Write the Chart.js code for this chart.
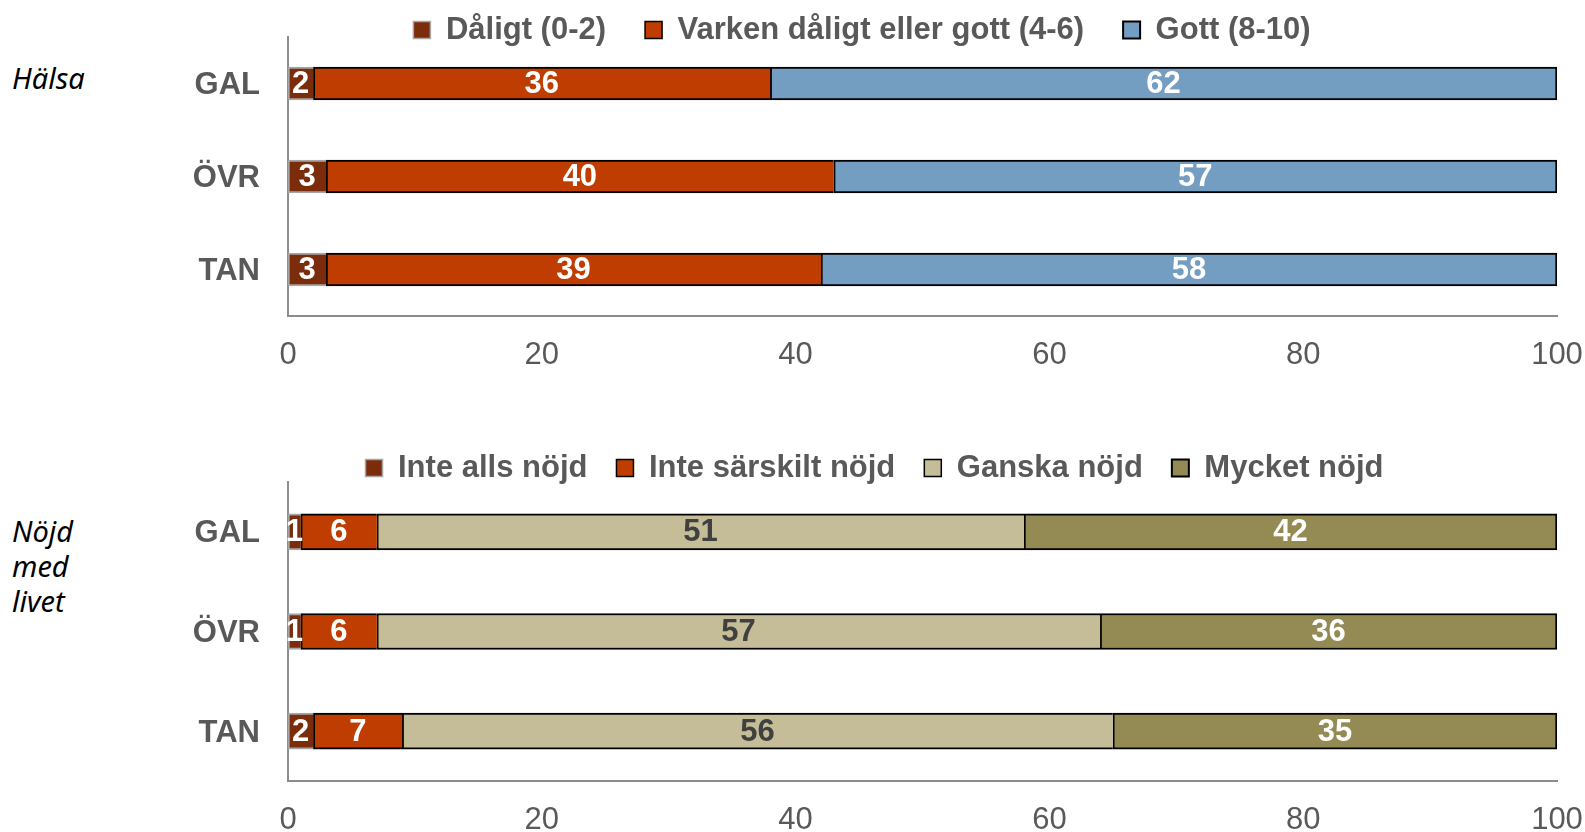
<!DOCTYPE html>
<html>
<head>
<meta charset="utf-8">
<script src="https://cdn.jsdelivr.net/npm/chart.js@4.4.1/dist/chart.umd.min.js"></script>
<style>
html, body { margin: 0; padding: 0; background: #fff; overflow: hidden; width: 1585px; height: 832px; }
canvas { position: absolute; left: 0; }
#halsa { top: 0; }
#nojd { top: 420px; }
.side { position: absolute; left: 12px; font-family: "Noto Sans", sans-serif; font-style: italic; font-size: 29px; line-height: 35px; color: #000; }
</style>
</head>
<body>
<div class="side" style="top:60px">Hälsa</div>
<div class="side" style="top:513px">Nöjd<br>med<br>livet</div>
<canvas id="halsa" width="1585" height="400"></canvas>
<canvas id="nojd" width="1585" height="420"></canvas>
<script>
const groups = ["GAL", "ÖVR", "TAN"];
const xTicks = [0, 20, 40, 60, 80, 100];

const halsaSeries = ["Dåligt (0-2)", "Varken dåligt eller gott (4-6)", "Gott (8-10)"];
const halsaDaligt = [2, 3, 3];
const halsaVarken = [36, 40, 39];
const halsaGott = [62, 57, 58];

const nojdSeries = ["Inte alls nöjd", "Inte särskilt nöjd", "Ganska nöjd", "Mycket nöjd"];
const nojdInteAlls = [1, 1, 2];
const nojdInteSarskilt = [6, 6, 7];
const nojdGanska = [51, 57, 56];
const nojdMycket = [42, 36, 35];

const FONT = "'Liberation Sans', Arial, sans-serif";
const GREY_TEXT = "#595959";
const AXIS = "#8c8c8c";

// bar label plugin, value centred in each segment
const barLabels = {
    id: "barLabels",
    afterDatasetsDraw(chart) {
        const ctx = chart.ctx;
        ctx.save();
        ctx.font = "bold 31px " + FONT;
        ctx.textAlign = "center";
        ctx.textBaseline = "middle";
        chart.data.datasets.forEach((ds, i) => {
            chart.getDatasetMeta(i).data.forEach((bar, j) => {
                ctx.fillStyle = ds.labelColor;
                ctx.fillText(ds.data[j], (bar.x + bar.base) / 2, bar.y + 1);
            });
        });
        ctx.restore();
    }
};

// legend keeps wide gaps between items but takes only a fixed height,
// and is drawn without clipping to that height
function legendHeight(h) {
    return {
        id: "legendHeight",
        beforeInit(chart) {
            if (!chart.legend) return;
            const fit = chart.legend.fit;
            chart.legend.fit = function () {
                fit.call(this);
                this.height = h;
            };
            chart.legend.draw = function () {
                if (this.options.display) this._draw();
            };
        }
    };
}

function segment(label, data, color, border, labelColor, last) {
    return {
        label: label,
        data: data,
        backgroundColor: color,
        borderColor: border,
        borderWidth: { top: 2, bottom: 2, left: 2, right: last ? 2 : 0 },
        borderSkipped: false,
        labelColor: labelColor
    };
}

function makeChart(id, datasets, opt) {
    return new Chart(document.getElementById(id), {
        type: "bar",
        data: { labels: groups, datasets: datasets },
        options: {
            indexAxis: "y",
            responsive: false,
            animation: false,
            barThickness: opt.bar,
            layout: { padding: opt.padding },
            plugins: {
                tooltip: { enabled: false },
                legend: {
                    position: "top",
                    labels: {
                        boxWidth: 17,
                        boxHeight: 17,
                        padding: opt.legendGap,
                        color: GREY_TEXT,
                        font: { family: FONT, size: 31, weight: "bold" }
                    }
                }
            },
            scales: {
                x: {
                    stacked: true,
                    min: 0,
                    max: 100,
                    afterBuildTicks: s => { s.ticks = xTicks.map(v => ({ value: v })); },
                    grid: { display: false, drawTicks: true, tickLength: 21 },
                    border: { display: true, color: AXIS, width: 2 },
                    ticks: { padding: 0, color: GREY_TEXT, font: { family: FONT, size: 31 } }
                },
                y: {
                    stacked: true,
                    afterFit: s => { s.width = opt.yWidth; },
                    grid: { display: false, drawTicks: true, tickLength: 28 },
                    border: { display: true, color: AXIS, width: 2 },
                    ticks: { padding: 0, labelOffset: 2, color: GREY_TEXT, font: { family: FONT, size: 31, weight: "bold" } }
                }
            }
        },
        plugins: [barLabels, legendHeight(opt.legendHeight)]
    });
}

makeChart("halsa", [
    segment(halsaSeries[0], halsaDaligt, "#7b2c0b", "#a6a6a6", "#ffffff", false),
    segment(halsaSeries[1], halsaVarken, "#bf3d00", "#000000", "#ffffff", false),
    segment(halsaSeries[2], halsaGott, "#749dc2", "#000000", "#ffffff", true)
], {
    bar: 33,
    legendGap: 39,
    legendHeight: 61.5,
    yWidth: 121,
    padding: { top: -24.5, left: 167, right: 28, bottom: 25.8 }
});

makeChart("nojd", [
    segment(nojdSeries[0], nojdInteAlls, "#7b2c0b", "#a6a6a6", "#ffffff", false),
    segment(nojdSeries[1], nojdInteSarskilt, "#bf3d00", "#000000", "#ffffff", false),
    segment(nojdSeries[2], nojdGanska, "#c4bd97", "#000000", "#404040", false),
    segment(nojdSeries[3], nojdMycket, "#948a54", "#000000", "#ffffff", true)
], {
    bar: 36,
    legendGap: 29,
    legendHeight: 58.5,
    yWidth: 96,
    padding: { top: 3.5, left: 192, right: 28, bottom: 0.8 }
});
</script>
</body>
</html>
